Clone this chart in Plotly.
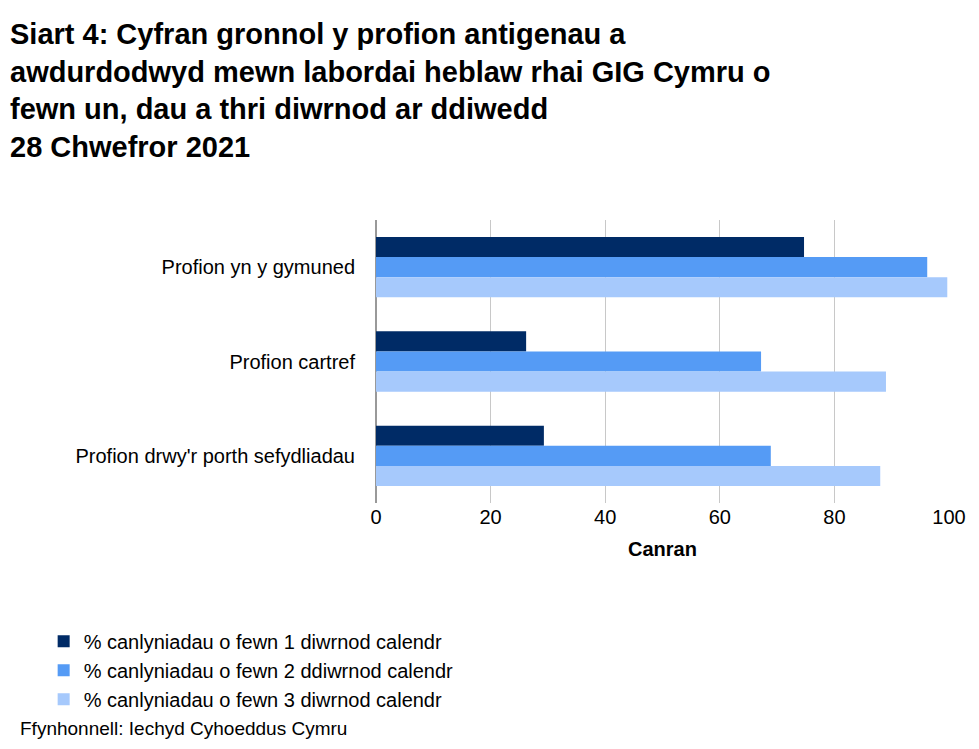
import plotly.graph_objects as go

categories = ["Profion yn y gymuned", "Profion cartref", "Profion drwy'r porth sefydliadau"]
series_names = ["% canlyniadau o fewn 1 diwrnod calendr",
                "% canlyniadau o fewn 2 ddiwrnod calendr",
                "% canlyniadau o fewn 3 diwrnod calendr"]
day1 = [74.7, 26.2, 29.3]
day2 = [96.2, 67.2, 68.9]
day3 = [99.7, 89.0, 88.0]
colors = ["#002B66", "#559BF5", "#A6C9FC"]

fig = go.Figure()
for name, vals, c in zip(series_names, [day1, day2, day3], colors):
    fig.add_trace(go.Bar(y=categories, x=vals, name=name, orientation="h",
                         marker=dict(color=c, line=dict(width=0))))

title = ("<b>Siart 4: Cyfran gronnol y profion antigenau a<br>awdurdodwyd mewn labordai heblaw rhai GIG Cymru o"
         "<br>fewn un, dau a thri diwrnod ar ddiwedd<br>28 Chwefror 2021</b>")
fig.update_layout(
    width=979, height=749, barmode="group", bargap=0.36, bargroupgap=0,
    paper_bgcolor="white", plot_bgcolor="white",
    font=dict(family="Liberation Sans, Arial", size=20, color="black"),
    margin=dict(l=368, r=38, t=212, b=254),
    xaxis=dict(range=[0, 100], dtick=20, showgrid=True, gridcolor="#C8C8C8",
               zeroline=True, zerolinecolor="#999", ticks="",
               title=dict(text="<b>Canran</b>", font=dict(size=20), standoff=14)),
    yaxis=dict(autorange="reversed", ticks="", ticklabelstandoff=20),
    legend=dict(orientation="h", x=-0.58, xanchor="left", y=-0.42, yanchor="top",
                traceorder="normal", font=dict(size=20),
                entrywidth=470, entrywidthmode="pixels"),
    annotations=[
        dict(text=title, xref="paper", yref="paper", x=-368/573, y=(495-8)/283,
             xanchor="left", yanchor="top", align="left", showarrow=False,
             font=dict(size=29)),
        dict(text="Ffynhonnell: Iechyd Cyhoeddus Cymru", xref="paper", yref="paper",
             x=-358/573, y=-(720-495)/283, xanchor="left", yanchor="middle",
             showarrow=False, font=dict(size=19)),
    ],
)
fig.write_html("out.html")
